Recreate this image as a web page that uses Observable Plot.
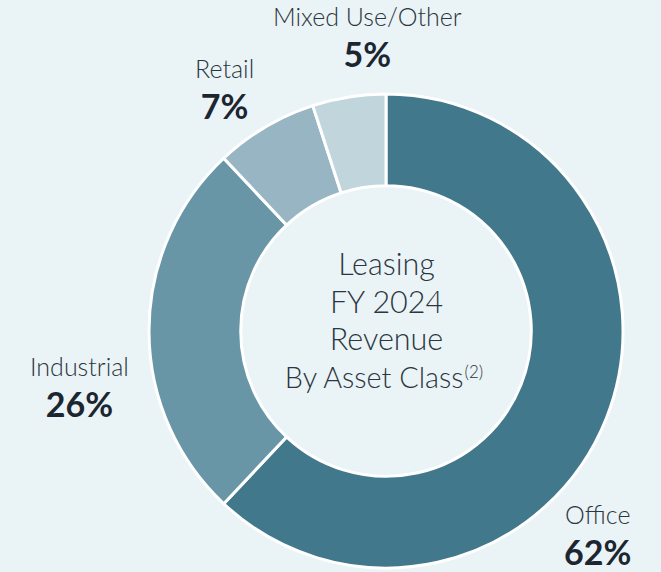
<!DOCTYPE html>
<html>
<head>
<meta charset="utf-8">
<script src="https://cdn.jsdelivr.net/npm/d3@7"></script>
<script src="https://cdn.jsdelivr.net/npm/@observablehq/plot@0.6"></script>
<style>
  html, body { margin: 0; padding: 0; background: #eaf3f6; }
  #chart svg { display: block; background: #eaf3f6; }
</style>
</head>
<body>
<div id="chart"></div>
<script>
// ---- data ----
const categories = ["Office", "Industrial", "Retail", "Mixed Use/Other"];
const shares = [62, 26, 7, 5];
const pctLabels = ["62%", "26%", "7%", "5%"];
const centerLines = ["Leasing", "FY 2024", "Revenue", "By Asset Class"];
const footnote = "(2)";

// ---- styling / layout (kept separate from data) ----
const sliceColors = ["#41788c", "#6896a6", "#97b5c2", "#c1d5dc"];
const labelAngleDeg = [132.3, -98.2, -32.6, -3.6];   // label anchor angle (clockwise from 12 o'clock)
const labelRadius = [1.205, 1.309, 1.268, 1.29];      // in units of outer radius
const W = 661, H = 572, R = 237, CX = 386, CY = 331, INNER = 0.613;
const FONT = "Lato, 'Noto Sans', sans-serif";

const rows = categories.map((c, i) => ({category: c, share: shares[i], pct: pctLabels[i],
  x: labelRadius[i] * Math.sin(labelAngleDeg[i] * Math.PI / 180),
  y: labelRadius[i] * Math.cos(labelAngleDeg[i] * Math.PI / 180)}));
const lineRows = centerLines.map((t, i) => ({text: t, x: 0, y: -(i - 1.5) * 37.5 / R}));

const color = Plot.scale({color: {type: "ordinal", domain: categories, range: sliceColors}});

function donut(...args) {
  const scales = args.find(a => a && typeof a.x === "function" && typeof a.y === "function");
  const cx = scales.x(0), cy = scales.y(0), r = scales.x(1) - scales.x(0);
  const arcs = d3.pie().sort(null).value(d => d.share)(rows);
  const arc = d3.arc().innerRadius(r * INNER).outerRadius(r);
  const g = d3.create("svg:g").attr("transform", `translate(${cx},${cy})`);
  g.selectAll("path").data(arcs).join("path")
    .attr("d", arc)
    .attr("fill", d => color.apply(d.data.category))
    .attr("stroke", "white")
    .attr("stroke-width", 3)
    .attr("stroke-linejoin", "round");
  return g.node();
}

const chart = Plot.plot({
  width: W, height: H,
  margin: 0,
  x: {domain: [-CX / R, (W - CX) / R], axis: null},
  y: {domain: [-(H - CY) / R, CY / R], axis: null},
  style: {background: "#eaf3f6", fontFamily: FONT},
  marks: [
    donut,
    Plot.text(rows, {x: "x", y: "y", text: "category", lineAnchor: "bottom",
      fontSize: 25, fontWeight: 300, fill: "#2b3640"}),
    Plot.text(rows, {x: "x", y: "y", text: "pct", lineAnchor: "bottom", dy: 41,
      fontSize: 34, fontWeight: 700, fill: "#1c2630"}),
    Plot.text(lineRows.slice(0, 3), {x: "x", y: "y", text: "text", lineAnchor: "bottom",
      fontSize: 30.5, fontWeight: 300, fill: "#2b3640"}),
    Plot.text(lineRows.slice(3), {x: "x", y: "y", text: "text", lineAnchor: "bottom", textAnchor: "end", dx: 77,
      fontSize: 28.8, fontWeight: 300, fill: "#2b3640"}),
    Plot.text(lineRows.slice(3), {x: "x", y: "y", text: () => footnote, lineAnchor: "bottom", textAnchor: "start", dx: 78, dy: -10,
      fontSize: 17, fontWeight: 300, fill: "#2b3640"})
  ]
});
document.getElementById("chart").append(chart);
</script>
</body>
</html>
